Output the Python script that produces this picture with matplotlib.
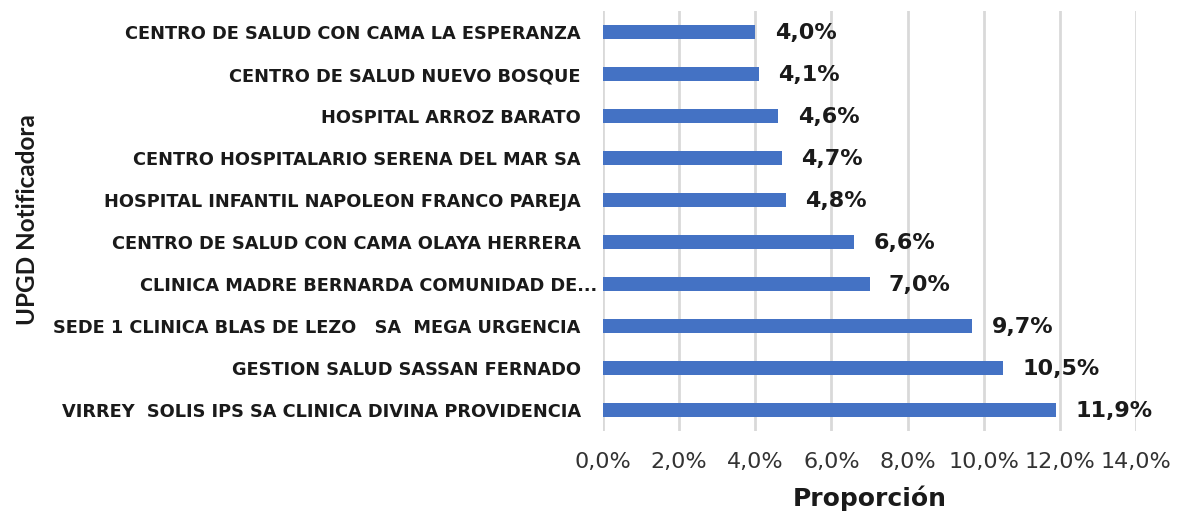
import numpy as np
import matplotlib.pyplot as plt
import matplotlib.transforms as mtrans

# data (top to bottom as in the chart)
upgd = ['CENTRO DE SALUD CON CAMA LA ESPERANZA',
        'CENTRO DE SALUD NUEVO BOSQUE',
        'HOSPITAL ARROZ BARATO',
        'CENTRO HOSPITALARIO SERENA DEL MAR SA',
        'HOSPITAL INFANTIL NAPOLEON FRANCO PAREJA',
        'CENTRO DE SALUD CON CAMA OLAYA HERRERA',
        'CLINICA MADRE BERNARDA COMUNIDAD DE...',
        'SEDE 1 CLINICA BLAS DE LEZO   SA  MEGA URGENCIA',
        'GESTION SALUD SASSAN FERNADO',
        'VIRREY  SOLIS IPS SA CLINICA DIVINA PROVIDENCIA']
proporcion = [4.0, 4.1, 4.6, 4.7, 4.8, 6.6, 7.0, 9.7, 10.5, 11.9]
xticks = [0, 2, 4, 6, 8, 10, 12, 14]

fig = plt.figure(figsize=(11.78, 5.14), dpi=100)
ax = fig.add_axes([603/1178, 1 - 431/514, (1136-603)/1178, 420/514])

y = np.arange(len(upgd))
ax.barh(y, proporcion, height=0.35, color='#4472C4', zorder=3)
ax.set_ylim(len(upgd) - 0.5, -0.5)
ax.set_xlim(0, 14)

for yi, v in zip(y, proporcion):
    ax.annotate(f'{v:.1f}%'.replace('.', ','), (v, yi), xytext=(14, -1),
                textcoords='offset points', ha='left', va='center',
                fontsize=16, fontweight='bold', family='DejaVu Sans', color='#1a1a1a')

ax.set_yticks(y)
ax.set_yticklabels(upgd, fontsize=12.8, fontweight='bold', family='DejaVu Sans', color='#1a1a1a')
ax.tick_params(axis='y', length=0, pad=16)
# the truncated label sits closer to the axis
lab = ax.get_yticklabels()[6]
lab.set_transform(lab.get_transform() + mtrans.ScaledTranslation(12/72, 0, fig.dpi_scale_trans))

ax.set_xticks(xticks)
ax.set_xticklabels([f'{t:.1f}%'.replace('.', ',') for t in xticks], fontsize=16,
                   family='DejaVu Sans', color='#333333')
ax.tick_params(axis='x', length=0, pad=15)

ax.grid(axis='x', color='#D9D9D9', linewidth=2, zorder=0)
for s in ax.spines.values():
    s.set_visible(False)

ax.set_xlabel('Proporción', fontsize=18, fontweight='bold', family='DejaVu Sans', labelpad=10,
              color='#1a1a1a')
fig.text(28/1178, 1 - 220/514, 'UPGD Notificadora', rotation=90, ha='center', va='center',
         fontsize=17.5, fontweight='bold', family='Lato', color='#1a1a1a')

fig.savefig('out.png', dpi=100)
